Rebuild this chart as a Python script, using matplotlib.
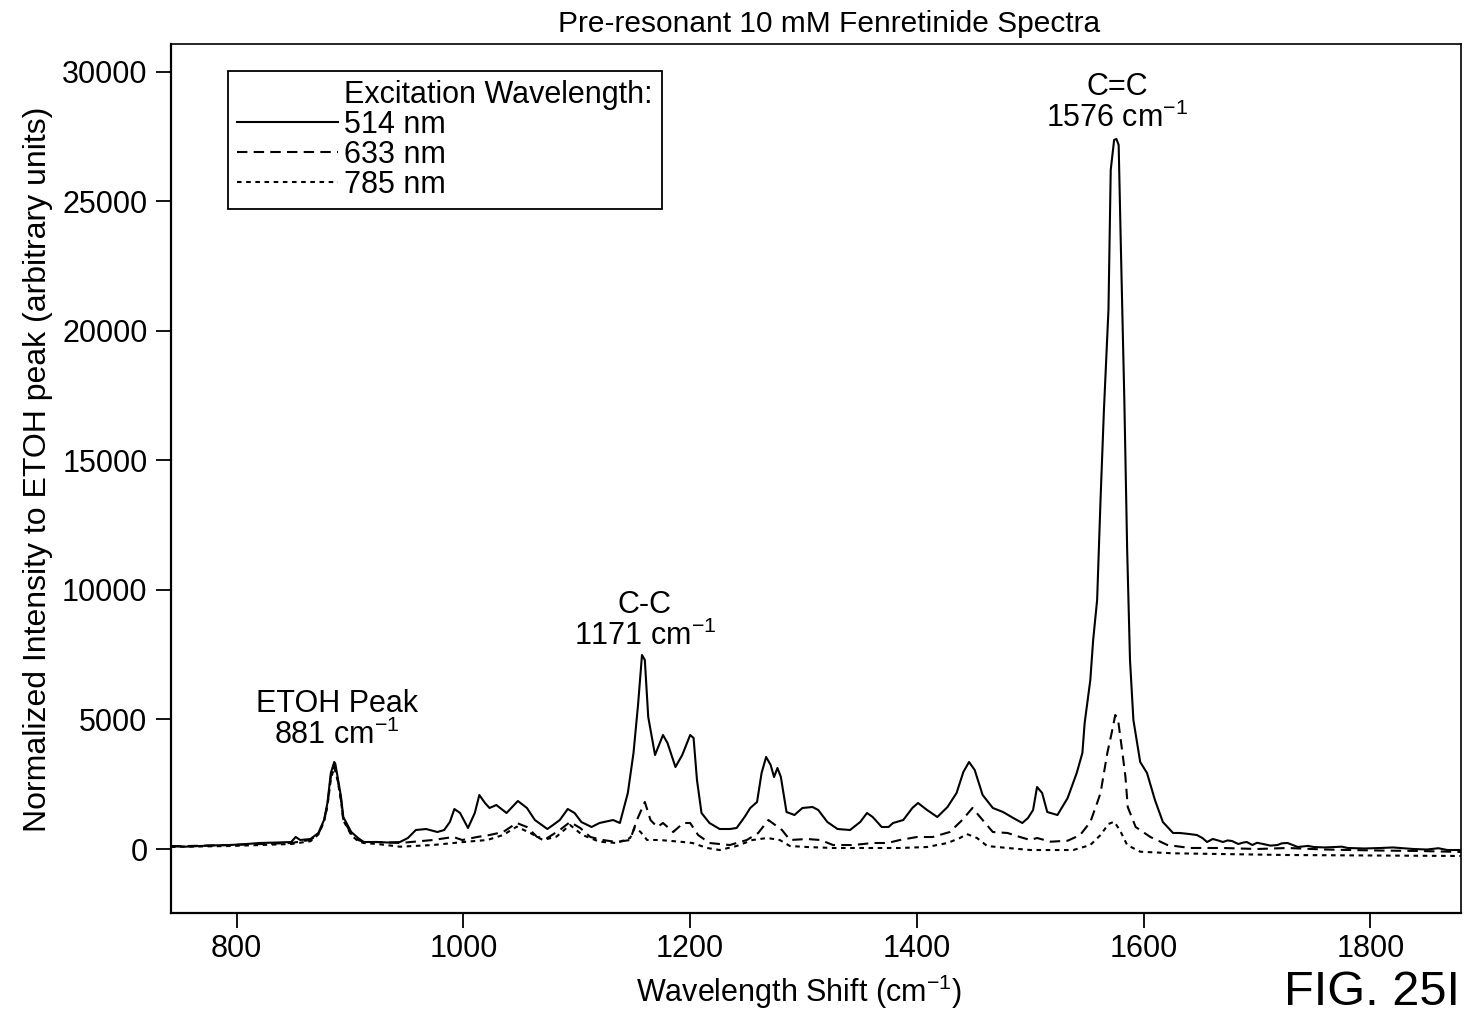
import matplotlib
matplotlib.use("Agg")
import matplotlib.pyplot as plt
from matplotlib.lines import Line2D

plt.rcParams['font.family'] = ['Liberation Sans', 'DejaVu Sans']
plt.rcParams['mathtext.fontset'] = 'custom'
plt.rcParams['mathtext.rm'] = 'Liberation Sans'
plt.rcParams['mathtext.it'] = 'Liberation Sans:italic'
plt.rcParams['mathtext.default'] = 'regular'

# Raman shift (cm-1) and normalized intensity for each excitation wavelength
shift_514 = [742, 755, 767, 780, 794, 808, 820, 835, 848, 852, 856, 865, 872, 877, 880, 883, 886, 887,
             889, 892, 894, 901, 907, 912, 924, 934, 944, 951, 958, 967, 977, 983, 988, 992, 997,
             1004, 1010, 1014, 1019, 1023, 1029, 1038, 1048, 1056, 1063, 1074, 1079, 1085, 1092,
             1098, 1104, 1113, 1120, 1132, 1138, 1145, 1150, 1154, 1157.5, 1160, 1163, 1169, 1176,
             1180, 1187, 1193, 1200, 1203, 1206, 1210, 1217, 1226, 1235, 1241, 1248, 1253, 1259,
             1263, 1267, 1271, 1274, 1277, 1280, 1285, 1292, 1299, 1308, 1313, 1321, 1330, 1341,
             1350, 1356, 1361, 1369, 1375, 1379, 1388, 1396, 1401, 1409, 1418, 1427, 1435, 1441,
             1446, 1451, 1458, 1467, 1476, 1485, 1493, 1498, 1502.5, 1506, 1510.5, 1515, 1524,
             1533, 1541, 1546, 1548, 1553, 1555.5, 1559, 1562, 1565, 1569, 1571, 1574, 1576, 1578,
             1580, 1583, 1585.5, 1588, 1591, 1597, 1603, 1610, 1617, 1626, 1632, 1640, 1647, 1652,
             1656, 1661, 1665, 1670, 1674, 1678, 1683.5, 1688, 1691, 1696, 1700, 1705.5, 1712,
             1718, 1722, 1727, 1736, 1745, 1750, 1760, 1775, 1780, 1795, 1809, 1820, 1838, 1850,
             1860, 1868, 1881]
int_514 = [116, 90, 116, 140, 154, 190, 232, 250, 270, 463, 347, 386, 618, 1119, 1775, 2934, 3358,
           3281, 2779, 2007, 1235, 656, 425, 270, 270, 250, 270, 425, 733, 772, 656, 733, 1042, 1544,
           1390, 811, 1390, 2084, 1775, 1583, 1698, 1390, 1853, 1583, 1119, 772, 926, 1119, 1544,
           1390, 1042, 849, 1004, 1119, 1004, 2162, 3706, 5558, 7488, 7295, 5095, 3628, 4400,
           4092, 3165, 3628, 4400, 4285, 2663, 1390, 1004, 772, 772, 811, 1235, 1583, 1814,
           2934, 3551, 3242, 2779, 3127, 2779, 1428, 1312, 1583, 1621, 1505, 1042, 772, 733,
           1042, 1390, 1235, 849, 849, 1004, 1119, 1583, 1776, 1505, 1235, 1621, 2162, 2972,
           3358, 3049, 2084, 1583, 1428, 1197, 1004, 1197, 1505, 2393, 2162, 1428, 1312,
           1969, 2934, 3706, 4864, 6523, 8067, 9611, 13471, 16945, 20805, 26209, 27367, 27406, 27174,
           23121, 17331, 11541, 7295, 4979, 3358, 2934, 1891, 1042, 618, 618, 580, 540, 420,
           270, 386, 340, 270, 330, 309, 193, 250, 270, 154, 240, 193, 130,
           154, 220, 232, 77, 120, 77, 60, 90, 39, 20, 39, 60, 0, -20,
           30, -39, -39]

shift_633 = [742, 794, 848, 865, 872, 877, 880, 883, 886, 889, 892, 894, 901, 907, 912, 924, 944,
             973, 991, 999, 1012, 1023, 1035, 1047, 1056, 1065, 1074, 1085, 1094, 1103, 1112,
             1123, 1135, 1147, 1153, 1160, 1165, 1171, 1176, 1185, 1194, 1200, 1207, 1217, 1235,
             1250, 1260, 1269, 1281, 1288, 1303, 1315, 1326, 1344, 1361, 1374, 1385, 1400, 1414,
             1429, 1440, 1449, 1458, 1467, 1480, 1491, 1500, 1506, 1518, 1533, 1544, 1553, 1559,
             1562, 1568, 1572, 1575, 1577.5, 1581, 1584, 1586, 1593, 1606, 1621, 1641, 1670, 1700,
             1727, 1760, 1782, 1810, 1844, 1881]
int_633 = [100, 154, 232, 350, 580, 1080, 1700, 2800, 3250, 2700, 1900, 1150, 580, 350, 270, 270, 232,
           347, 463, 347, 463, 540, 656, 1004, 849, 463, 425, 733, 1042, 811, 463,
           347, 270, 347, 1119, 1814, 1119, 849, 1004, 656, 1004, 1004, 540, 232, 154,
           347, 618, 1119, 733, 347, 386, 347, 154, 154, 232, 232, 347, 463, 463,
           656, 1119, 1583, 1119, 656, 618, 463, 347, 425, 282, 320, 540, 1042, 1776,
           2162, 3706, 4516, 5172, 4979, 3821, 2779, 1621, 849, 463, 154, 39, 39, 0,
           39, -20, -39, -60, -77, -116]

shift_785 = [742, 794, 848, 865, 872, 877, 880, 883, 886, 889, 892, 894, 901, 907, 912, 924, 944,
             973, 1003, 1021, 1035, 1047, 1059, 1070, 1082, 1094, 1105, 1120, 1135, 1147, 1151,
             1156, 1162, 1173, 1191, 1202, 1215, 1226, 1241, 1255, 1268, 1279, 1288, 1303, 1326,
             1356, 1385, 1409, 1427, 1438, 1444, 1453, 1462, 1480, 1500, 1518, 1538, 1553, 1562,
             1569, 1574, 1579, 1585.5, 1597, 1626, 1727, 1881]
int_785 = [80, 116, 193, 300, 560, 1050, 1650, 2700, 3150, 2650, 1850, 1100, 540, 300, 230, 193, 89,
           154, 282, 347, 540, 861, 618, 347, 475, 926, 540, 282, 232, 425, 811,
           668, 347, 347, 282, 232, 39, -39, 116, 347, 425, 347, 116, 77, 39,
           39, 39, 77, 232, 425, 579, 425, 116, 39, -39, -39, -39, 154, 540,
           965, 1054, 733, 154, -104, -166, -232, -270]

series_labels = ["514 nm", "633 nm", "785 nm"]
legend_title = "Excitation Wavelength:"
x_ticks = [800, 1000, 1200, 1400, 1600, 1800]
y_ticks = [0, 5000, 10000, 15000, 20000, 25000, 30000]

FS = 22

fig = plt.figure(figsize=(14.64, 10.17), dpi=100)
ax = fig.add_axes([171 / 1464, 104 / 1017, 1290 / 1464, 869 / 1017])

lw = 1.5
l514, = ax.plot(shift_514, int_514, color='black', lw=lw, linestyle='-')
l633, = ax.plot(shift_633, int_633, color='black', lw=lw, linestyle=(0, (5, 3)))
l785, = ax.plot(shift_785, int_785, color='black', lw=lw, linestyle=(0, (2.2, 2.2)))

ax.set_xlim(742, 1880)
ax.set_ylim(-2470, 31070)
ax.set_xticks(x_ticks)
ax.set_yticks(y_ticks)
ax.set_xticklabels([str(v) for v in x_ticks])
ax.set_yticklabels([str(v) for v in y_ticks])
ax.tick_params(axis='both', direction='out', length=11, width=1.3, labelsize=FS,
               colors='black')
ax.tick_params(axis='x', pad=4)
ax.tick_params(axis='y', pad=6)
for side in ['left', 'bottom']:
    ax.spines[side].set_linewidth(1.6)
for side in ['top', 'right']:
    ax.spines[side].set_linewidth(1.2)

# Peak annotations
ax.text(888, 4980, "ETOH Peak\n881 cm$^{-1}$", ha='center', va='center', fontsize=FS,
        linespacing=1.05)
ax.text(1160, 8800, "C-C\n1171 cm$^{-1}$", ha='center', va='center', fontsize=FS,
        linespacing=1.05)
ax.text(1577, 28796, "C=C\n1576 cm$^{-1}$", ha='center', va='center', fontsize=FS,
        linespacing=1.05)

# Legend: first row carries the heading with an invisible handle
blank = Line2D([], [], color='none')
leg = ax.legend([blank, l514, l633, l785], [legend_title] + series_labels,
                loc='upper left', bbox_to_anchor=(57 / 1290, 842 / 869),
                borderaxespad=0, fontsize=FS, handlelength=3.3, handletextpad=0.2,
                labelspacing=0.0, borderpad=0.3, frameon=True, fancybox=False,
                edgecolor='black', framealpha=1)
leg.get_frame().set_linewidth(1.3)

fig.text(829 / 1464, 1 - 24 / 1017, "Pre-resonant 10 mM Fenretinide Spectra",
         ha='center', va='center', fontsize=21.5)
fig.text(799 / 1464, 1 - 992 / 1017, "Wavelength Shift (cm$^{-1}$)",
         ha='center', va='center', fontsize=FS)
fig.text(38 / 1464, 1 - 469 / 1017, "Normalized Intensity to ETOH peak (arbitrary units)",
         ha='center', va='center', rotation=90, fontsize=23)
fig.text(1460 / 1464, 2 / 1017, "FIG. 25I", ha='right', va='bottom', fontsize=35)

fig.savefig("out.png", dpi=100)
